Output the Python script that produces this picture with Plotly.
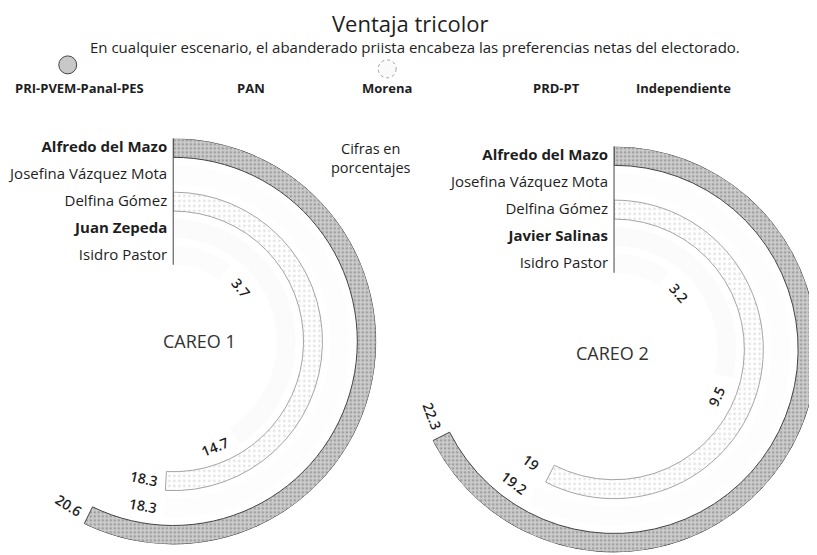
import math
import plotly.graph_objects as go

# Datos (porcentajes)
partidos = ["PRI-PVEM-Panal-PES", "PAN", "Morena", "PRD-PT", "Independiente"]
candidatos_1 = ["Alfredo del Mazo", "Josefina Vázquez Mota", "Delfina Gómez", "Juan Zepeda", "Isidro Pastor"]
valores_1 = [20.6, 18.3, 18.3, 14.7, 3.7]
candidatos_2 = ["Alfredo del Mazo", "Josefina Vázquez Mota", "Delfina Gómez", "Javier Salinas", "Isidro Pastor"]
valores_2 = [22.3, 19.2, 19.0, 9.5, 3.2]
negritas = [True, False, False, True, False]

W, H = 817, 555
OFF = 8          # margen por defecto del <body> en la página
R = 204          # radio exterior (px)
GROSOR = 19
PASO = 27
bases = [R - GROSOR - PASO * i for i in range(5)]
R_MIN = bases[-1]
FUENTE = "Open Sans"
TXT = "#1e1e1e"


def px(x, y):
    """pixel de la ventana -> coordenadas paper"""
    return (x - OFF) / W, 1 - (y - OFF) / H


estilos = [
    dict(color="#c4c4c4", line=dict(color="#444444", width=1),
         pattern=dict(shape=".", fgcolor="#6f6f6f", bgcolor="#cdcdcd", size=4, solidity=0.35)),
    dict(color="#fdfdfd", line=dict(color="#fdfdfd", width=0)),
    dict(color="#f6f6f6", line=dict(color="#a4a4a4", width=1),
         pattern=dict(shape=".", fgcolor="#c0c0c0", bgcolor="#ffffff", size=5, solidity=0.2)),
    dict(color="#fbfbfb", line=dict(color="#fbfbfb", width=0)),
    dict(color="#fcfcfc", line=dict(color="#fcfcfc", width=0)),
]

graficas = [
    dict(titulo="CAREO 1", cand=candidatos_1, val=valores_1, escala=36, cx=170, cy=341,
         sector=[-125, 90], polar="polar", xa="x", ya="y", dx_titulo=26, dy_titulo=0),
    dict(titulo="CAREO 2", cand=candidatos_2, val=valores_2, escala=33, cx=613, cy=349,
         sector=[-157, 90], polar="polar2", xa="x2", ya="y2", dx_titulo=-2, dy_titulo=-4),
]

fig = go.Figure()
anotaciones = []
layout = {}

for n, g in enumerate(graficas):
    s0, s1 = g["sector"]
    xmin = min(0, math.cos(math.radians(s0)), math.cos(math.radians(s1)))
    xd = [(g["cx"] - OFF + xmin * R) / W, min(1.0, (g["cx"] - OFF + R) / W)]
    yd = [1 - (g["cy"] - OFF + R) / H, 1 - (g["cy"] - OFF - R) / H]
    sufijo = "" if n == 0 else "2"

    for i, v in enumerate(g["val"]):
        ang = v * 360 / g["escala"]
        fig.add_trace(go.Barpolar(
            theta=[ang / 2], width=[ang], r=[GROSOR], base=[bases[i]],
            marker=estilos[i], subplot=g["polar"], name=partidos[i],
            showlegend=False, hovertemplate=f"{g['cand'][i]}: {v:g}%<extra></extra>",
        ))
        # etiqueta de valor al final del arco
        rm = bases[i] + GROSOR / 2
        th = ang + math.degrees(22 / rm)
        rot = th if th <= 90 else th - 180
        anotaciones.append(dict(
            x=rm * math.sin(math.radians(th)), y=rm * math.cos(math.radians(th)),
            xref=g["xa"], yref=g["ya"], text=f"{v:g}", showarrow=False, textangle=rot,
            font=dict(family=FUENTE, size=14, color=TXT, weight=600),
        ))

    anotaciones.append(dict(
        x=g["dx_titulo"], y=g["dy_titulo"], xref=g["xa"], yref=g["ya"], text=g["titulo"],
        showarrow=False, font=dict(family=FUENTE, size=18, color="#333"),
    ))

    layout["polar" + sufijo] = dict(
        domain=dict(x=xd, y=yd), sector=g["sector"], hole=R_MIN / R,
        bgcolor="rgba(0,0,0,0)", barmode="overlay",
        radialaxis=dict(range=[R_MIN, R], angle=90, showline=True, linecolor="#444", linewidth=1,
                        showgrid=False, showticklabels=False, ticks=""),
        angularaxis=dict(rotation=90, direction="clockwise", showline=False, showgrid=False,
                         showticklabels=False, ticks=""),
    )
    layout["xaxis" + sufijo] = dict(domain=xd, range=[xmin * R, R], visible=False,
                                    anchor="y" + sufijo, fixedrange=True)
    layout["yaxis" + sufijo] = dict(
        domain=yd, range=[-R, R], anchor="free", position=(g["cx"] - OFF) / W, fixedrange=True,
        tickvals=[b + GROSOR / 2 for b in bases],
        ticktext=[f"<b>{c}</b>" if b else c for c, b in zip(g["cand"], negritas)],
        showgrid=False, zeroline=False, showline=False, ticks="", ticklabelstandoff=6,
        tickfont=dict(family=FUENTE, size=15, color=TXT),
    )


def texto(x, y, t, size, **kw):
    xp, yp = px(x, y)
    return dict(x=xp, y=yp, xref="paper", yref="paper", text=t, showarrow=False,
                xanchor="center", yanchor="middle",
                font=dict(family=FUENTE, size=size, color=TXT, **kw))


# Encabezado de partidos
pos_partidos = [76, 248, 385, 555, 683]
for p, x in zip(partidos, pos_partidos):
    anotaciones.append(texto(x, 87, f"<b>{p}</b>", 13))

anotaciones += [
    texto(408, 22, "Ventaja tricolor", 22),
    texto(413, 46, "En cualquier escenario, el abanderado priista encabeza las preferencias netas del electorado.", 15),
    texto(369, 157, "Cifras en<br>porcentajes", 14.5),
]


def circulo(x, y, r, **kw):
    x0, y0 = px(x - r, y + r)
    x1, y1 = px(x + r, y - r)
    return dict(type="circle", xref="paper", yref="paper", x0=x0, x1=x1, y0=y0, y1=y1, **kw)


fig.update_layout(
    width=W, height=H, margin=dict(l=0, r=0, t=0, b=0),
    paper_bgcolor="white", plot_bgcolor="white", showlegend=False,
    annotations=anotaciones,
    shapes=[
        circulo(64, 64, 9, fillcolor="#c8c8c8", line=dict(color="#444444", width=1)),
        circulo(385, 68, 9, fillcolor="#fafafa", line=dict(color="#a0a0a0", width=1, dash="dot")),
    ],
    **layout,
)

fig.write_html("out.html")
